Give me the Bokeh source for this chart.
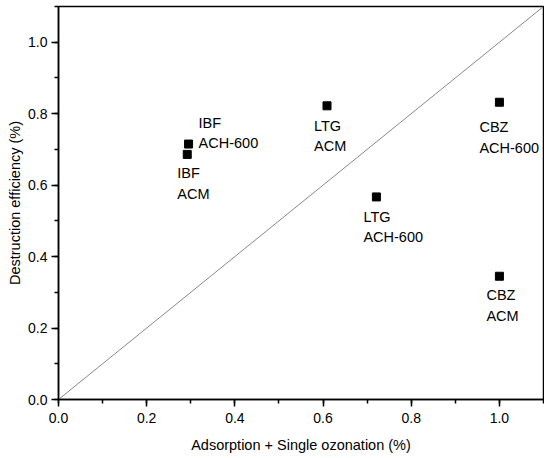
from bokeh.plotting import figure
from bokeh.models import ColumnDataSource, Range1d, SingleIntervalTicker, CustomJSTickFormatter
from bokeh.embed import file_html
from bokeh.resources import INLINE
from bokeh.core.properties import value

# Data
x_vals = [0.295, 0.292, 0.609, 0.721, 1.0, 1.0]
y_vals = [0.715, 0.686, 0.822, 0.567, 0.832, 0.345]
labels = ["IBF\nACH-600", "IBF\nACM", "LTG\nACM", "LTG\nACH-600", "CBZ\nACH-600", "CBZ\nACM"]
diag_x = [0.0, 1.1]
diag_y = [0.0, 1.1]

# label offsets in screen pixels (style)
dx = [10, -10, -13, -13, -20, -13]
dy = [-29, 11, 12, 12, 17, 11]

FONT = "Liberation Sans"

p = figure(frame_width=485, frame_height=393, output_backend="svg", toolbar_location=None,
           x_range=Range1d(0, 1.1), y_range=Range1d(0, 1.1),
           min_border_left=58, min_border_right=1, min_border_top=6, min_border_bottom=10)
p.grid.visible = False
p.background_fill_color = "white"
p.border_fill_color = "white"
p.outline_line_color = "black"
p.outline_line_width = 1.5

p.line(diag_x, diag_y, line_color="#888888", line_width=1)

src = ColumnDataSource(dict(x=x_vals, y=y_vals, label=labels, dx=dx, dy=dy))
p.scatter("x", "y", source=src, marker="square", size=8, fill_color="black", line_color="black")
p.text("x", "y", text="label", source=src, x_offset="dx", y_offset="dy",
       text_font=value(FONT), text_font_size="14.5px", text_color="black",
       text_align="left", text_baseline="top", text_line_height=1.27)

fmt = CustomJSTickFormatter(code="return tick.toFixed(1);")
for ax in (p.xaxis[0], p.yaxis[0]):
    ax.ticker = SingleIntervalTicker(interval=0.2, num_minor_ticks=2)
    ax.formatter = fmt
    ax.axis_line_color = "black"
    ax.axis_line_width = 1.5
    ax.major_tick_line_color = "black"
    ax.major_tick_line_width = 1.5
    ax.minor_tick_line_color = "black"
    ax.minor_tick_line_width = 1.5
    ax.major_tick_in = 0
    ax.major_tick_out = 7
    ax.minor_tick_in = 0
    ax.minor_tick_out = 4
    ax.major_label_text_font = FONT
    ax.major_label_text_font_size = "14px"
    ax.major_label_text_color = "black"
    ax.axis_label_text_font = FONT
    ax.axis_label_text_font_size = "14.5px"
    ax.axis_label_text_font_style = "normal"
    ax.axis_label_text_color = "black"

p.xaxis[0].axis_label = "Adsorption + Single ozonation (%)"
p.yaxis[0].axis_label = "Destruction efficiency (%)"
p.xaxis[0].major_label_standoff = 6
p.yaxis[0].major_label_standoff = 4
p.xaxis[0].axis_label_standoff = 11
p.yaxis[0].axis_label_standoff = 2

open("out.html", "w").write(file_html(p, INLINE))
